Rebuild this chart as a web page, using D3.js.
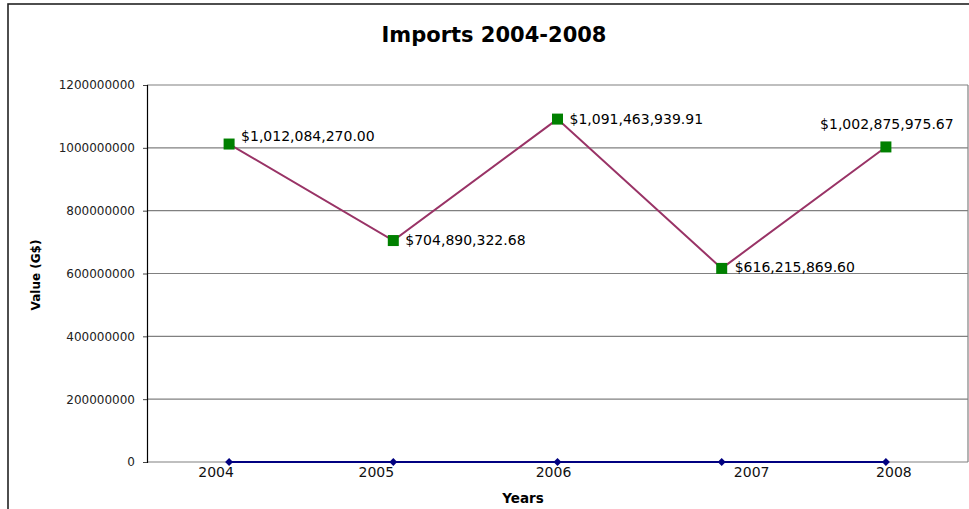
<!DOCTYPE html>
<html>
<head>
<meta charset="utf-8">
<script src="https://cdn.jsdelivr.net/npm/d3@7"></script>
<style>
  html, body { margin: 0; padding: 0; background: #fff; }
  svg { display: block; }
</style>
</head>
<body>
<svg id="chart" width="969" height="509"></svg>
<script>
// ---- data ----
const years = ["2004", "2005", "2006", "2007", "2008"];
const importValues = [1012084270.00, 704890322.68, 1091463939.91, 616215869.60, 1002875975.67];
const zeroSeries = [0, 0, 0, 0, 0];
const yTicks = [0, 200000000, 400000000, 600000000, 800000000, 1000000000, 1200000000];
const chartTitle = "Imports 2004-2008";
const xTitle = "Years";
const yTitle = "Value (G$)";

// ---- layout (not data) ----
const tickLabelDx = [-13, -17, -4, 30, 8];
const dataLabelPos = [
  { dx: 12, dy: -3.5, anchor: "start" },
  { dx: 12, dy: 4.5, anchor: "start" },
  { dx: 12, dy: 5, anchor: "start" },
  { dx: 13, dy: 4, anchor: "start" },
  { dx: 1, dy: -17.5, anchor: "middle" }
];

const svg = d3.select("#chart");
const plotL = 147, plotR = 968, plotT = 85, plotB = 462;
const FONT = "'DejaVu Sans', Verdana, sans-serif";

// outer chart border
svg.append("rect")
  .attr("x", 8).attr("y", 4)
  .attr("width", 1000).attr("height", 600)
  .attr("fill", "none").attr("stroke", "#222").attr("stroke-width", 1.6);

const x = d3.scaleBand().domain(years).range([plotL, plotR]);
const y = d3.scaleLinear().domain([0, 1200000000]).range([plotB, plotT]);
const cx = d => x(d) + x.bandwidth() / 2;

// gridlines
svg.append("g").selectAll("line").data(yTicks).join("line")
  .attr("x1", plotL).attr("x2", plotR)
  .attr("y1", d => y(d)).attr("y2", d => y(d))
  .attr("stroke", "#808080").attr("stroke-width", 1.2);

// right plot border
svg.append("line")
  .attr("x1", plotR).attr("x2", plotR).attr("y1", plotT).attr("y2", plotB)
  .attr("stroke", "#808080").attr("stroke-width", 1.2);

// y axis
const yAxis = svg.append("g")
  .attr("transform", `translate(${plotL},0)`)
  .call(d3.axisLeft(y).tickValues(yTicks).tickFormat(d3.format("d")).tickSize(4).tickPadding(8));
yAxis.select(".domain").attr("stroke", "#000").attr("stroke-width", 1.2);
yAxis.selectAll(".tick line").attr("stroke", "#444");
yAxis.selectAll("text")
  .attr("font-family", FONT).attr("font-size", 12).attr("fill", "#222");

// x axis labels
const xAxis = svg.append("g")
  .attr("transform", `translate(0,${plotB})`)
  .call(d3.axisBottom(x).tickSize(0).tickPadding(0));
xAxis.select(".domain").remove();
xAxis.selectAll(".tick text")
  .attr("font-family", FONT).attr("font-size", 14).attr("fill", "#111")
  .attr("dy", null)
  .attr("y", 5)
  .attr("dominant-baseline", "hanging")
  .attr("x", (d, i) => tickLabelDx[i]);

// zero series (navy)
const zeroData = years.map((yr, i) => ({ yr, v: zeroSeries[i] }));
svg.append("path")
  .datum(zeroData)
  .attr("fill", "none").attr("stroke", "#000080").attr("stroke-width", 2)
  .attr("d", d3.line().x(d => cx(d.yr)).y(d => y(d.v)));
svg.append("g").selectAll("path").data(zeroData).join("path")
  .attr("transform", d => `translate(${cx(d.yr)},${y(d.v)})`)
  .attr("d", d3.symbol().type(d3.symbolDiamond2).size(40))
  .attr("fill", "#000080");

// imports series
const impData = years.map((yr, i) => ({ yr, v: importValues[i] }));
svg.append("path")
  .datum(impData)
  .attr("fill", "none").attr("stroke", "#993366").attr("stroke-width", 2)
  .attr("d", d3.line().x(d => cx(d.yr)).y(d => y(d.v)));
svg.append("g").selectAll("rect").data(impData).join("rect")
  .attr("x", d => cx(d.yr) - 5.5).attr("y", d => y(d.v) - 5.5)
  .attr("width", 11).attr("height", 11)
  .attr("fill", "#008000");

// data labels
const fmt = v => "$" + d3.format(",.2f")(v);
svg.append("g").selectAll("text").data(impData).join("text")
  .attr("x", (d, i) => cx(d.yr) + dataLabelPos[i].dx)
  .attr("y", (d, i) => y(d.v) + dataLabelPos[i].dy)
  .attr("text-anchor", (d, i) => dataLabelPos[i].anchor)
  .attr("font-family", FONT).attr("font-size", 14).attr("fill", "#000")
  .text(d => fmt(d.v));

// titles
svg.append("text")
  .attr("x", 494).attr("y", 42)
  .attr("text-anchor", "middle")
  .attr("font-family", FONT).attr("font-weight", "bold").attr("font-size", 21)
  .attr("fill", "#000")
  .text(chartTitle);

svg.append("text")
  .attr("x", 523).attr("y", 503)
  .attr("text-anchor", "middle")
  .attr("font-family", FONT).attr("font-weight", "bold").attr("font-size", 13.5)
  .attr("fill", "#000")
  .text(xTitle);

svg.append("text")
  .attr("transform", "translate(40,275) rotate(-90)")
  .attr("text-anchor", "middle")
  .attr("font-family", FONT).attr("font-weight", "bold").attr("font-size", 12)
  .attr("fill", "#000")
  .text(yTitle);
</script>
</body>
</html>
